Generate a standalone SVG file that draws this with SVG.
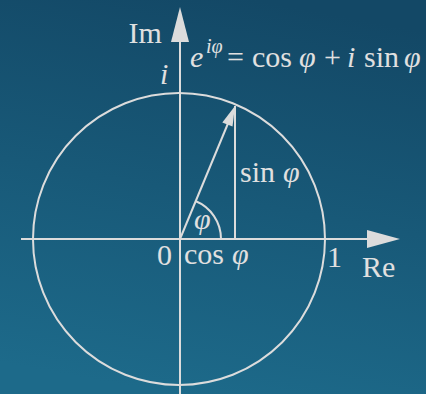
<svg xmlns="http://www.w3.org/2000/svg" width="426" height="394" viewBox="0 0 426 394">
<defs>
<linearGradient id="bg" x1="0.6" y1="0" x2="0.4" y2="1">
<stop offset="0" stop-color="#134866"/>
<stop offset="1" stop-color="#1d6a8a"/>
</linearGradient>
<style>
.ln{stroke:#dcdcdc;stroke-width:2;fill:none}
.ah{fill:#dcdcdc;stroke:none}
.t{font-family:"Liberation Serif","Times New Roman",serif;font-size:30px;fill:#e0e0e0}
.it{font-style:italic}
</style>
</defs>
<rect width="426" height="394" fill="url(#bg)"/>
<g id="connectors">
<g id="re-axis">
<line class="ln" x1="21" y1="239" x2="370" y2="239"/>
<polygon class="ah" points="400,239 367,230 367,248"/>
</g>
<g id="im-axis">
<line class="ln" x1="180" y1="394" x2="180" y2="38"/>
<polygon class="ah" points="180,7 171,42 189,42"/>
</g>
<g id="unit-circle">
<circle class="ln" cx="179" cy="239" r="146"/>
</g>
<g id="vector">
<line class="ln" x1="180" y1="239" x2="229" y2="121"/>
<polygon class="ah" points="235,106 232.5,126.6 222.3,122.4"/>
</g>
<g id="sine-line">
<line class="ln" x1="235" y1="106" x2="235" y2="239"/>
</g>
<g id="angle-arc">
<path class="ln" d="M221,239 A41,41 0 0 0 195.4,201"/>
</g>
</g>
<g id="labels">
<text class="t" x="128.5" y="43">Im</text>
<text class="t it" x="160" y="84">i</text>
<g id="formula">
<text class="t it" x="190" y="67">e</text>
<text class="t it" x="206" y="53" style="font-size:20px">iφ</text>
<text class="t" x="227" y="67">=</text>
<text class="t" x="252" y="67">cos</text>
<text class="t it" x="299" y="67">φ</text>
<text class="t" x="324" y="67">+</text>
<text class="t it" x="347" y="67">i</text>
<text class="t" x="364" y="67">sin</text>
<text class="t it" x="404" y="67">φ</text>
</g>
<g id="sin-label">
<text class="t" x="240" y="182">sin</text>
<text class="t it" x="283" y="182">φ</text>
</g>
<g id="cos-label">
<text class="t" x="184" y="264">cos</text>
<text class="t it" x="232" y="264">φ</text>
</g>
<text class="t it" x="194" y="229">φ</text>
<text class="t" x="157" y="265">0</text>
<text class="t" x="327" y="267">1</text>
<text class="t" x="362" y="277">Re</text>
</g>
</svg>
